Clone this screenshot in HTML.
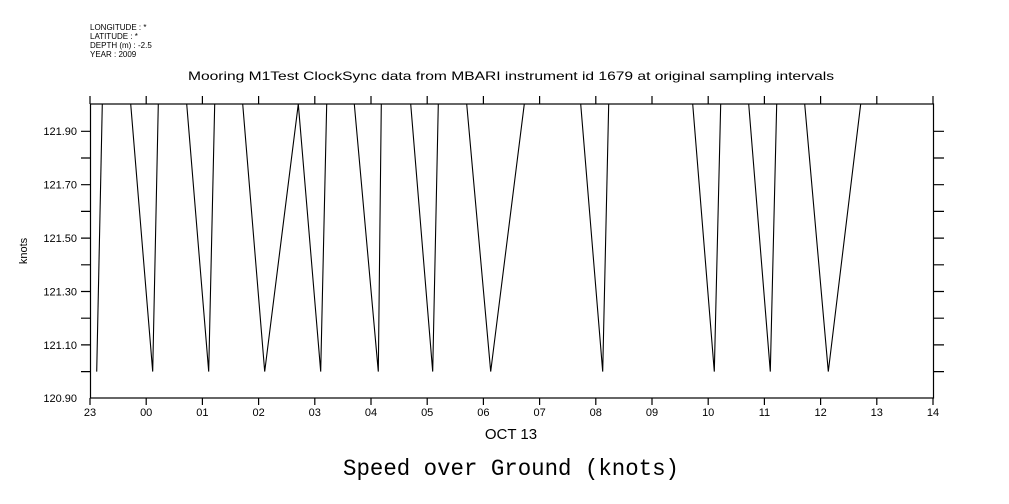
<!DOCTYPE html>
<html><head><style>
html,body{margin:0;padding:0;background:#fff;}
svg{display:block;}
text{font-family:"Liberation Sans",sans-serif;fill:#000;}
</style></head><body>
<svg width="1009" height="504" viewBox="0 0 1009 504" xmlns="http://www.w3.org/2000/svg">
<g font-size="8">
<text x="90" y="30">LONGITUDE : *</text>
<text x="90" y="39">LATITUDE : *</text>
<text x="90" y="48">DEPTH (m) : -2.5</text>
<text x="90" y="57">YEAR : 2009</text>
</g>
<text x="511" y="80" font-size="12" text-anchor="middle" textLength="646" lengthAdjust="spacingAndGlyphs">Mooring M1Test ClockSync data from MBARI instrument id 1679 at original sampling intervals</text>
<g stroke="#000" stroke-width="1.2" fill="none">
<rect x="90.5" y="104" width="843" height="294"/>
<path d="M90,104V96M146.2,104V96M202.4,104V96M258.6,104V96M314.8,104V96M371,104V96M427.2,104V96M483.4,104V96M539.6,104V96M595.8,104V96M652,104V96M708.2,104V96M764.4,104V96M820.6,104V96M876.8,104V96M933,104V96"/>
<path d="M90,398V405M146.2,398V405M202.4,398V405M258.6,398V405M314.8,398V405M371,398V405M427.2,398V405M483.4,398V405M539.6,398V405M595.8,398V405M652,398V405M708.2,398V405M764.4,398V405M820.6,398V405M876.8,398V405M933,398V405"/>
<path d="M81,131.3H90M81,158H90M81,184.7H90M81,211.4H90M81,238.1H90M81,264.8H90M81,291.5H90M81,318.2H90M81,344.9H90M81,371.6H90"/>
<path d="M934,131.3H944M934,158H944M934,184.7H944M934,211.4H944M934,238.1H944M934,264.8H944M934,291.5H944M934,318.2H944M934,344.9H944M934,371.6H944"/>
</g>
<g stroke="#000" stroke-width="1.1" fill="none">
<polyline points="96.7,371.6 102.3,104"/>
<polyline points="130.7,104 152.7,371.6 158.3,104"/>
<polyline points="186.7,104 208.7,371.6 214.7,104"/>
<polyline points="242.7,104 264.7,371.6 298.3,104 320.7,371.6 326.7,104"/>
<polyline points="354.3,104 378.3,371.6 381.3,104"/>
<polyline points="410.7,104 432.7,371.6 438.3,104"/>
<polyline points="466.7,104 490.7,371.6 524.3,104"/>
<polyline points="580.7,104 602.7,371.6 608.7,104"/>
<polyline points="692.7,104 714.3,371.6 720.7,104"/>
<polyline points="748.7,104 770.3,371.6 776.7,104"/>
<polyline points="804.7,104 828.3,371.6 860.7,104"/>
</g>
<g font-size="11" text-anchor="end">
<text x="77" y="135">121.90</text>
<text x="77" y="188.5">121.70</text>
<text x="77" y="242">121.50</text>
<text x="77" y="295.5">121.30</text>
<text x="77" y="349">121.10</text>
<text x="77" y="402">120.90</text>
</g>
<text x="0" y="0" font-size="11" text-anchor="middle" transform="translate(27,251) rotate(-90)">knots</text>
<g font-size="11" text-anchor="middle">
<text x="90" y="416">23</text><text x="146.2" y="416">00</text><text x="202.4" y="416">01</text><text x="258.6" y="416">02</text><text x="314.8" y="416">03</text><text x="371" y="416">04</text><text x="427.2" y="416">05</text><text x="483.4" y="416">06</text><text x="539.6" y="416">07</text><text x="595.8" y="416">08</text><text x="652" y="416">09</text><text x="708.2" y="416">10</text><text x="764.4" y="416">11</text><text x="820.6" y="416">12</text><text x="876.8" y="416">13</text><text x="933" y="416">14</text>
</g>
<text x="511" y="439" font-size="15" text-anchor="middle">OCT 13</text>
<text x="511" y="475" font-size="23" text-anchor="middle" style="font-family:'Liberation Mono','DejaVu Sans Mono',monospace" textLength="336" lengthAdjust="spacingAndGlyphs">Speed over Ground (knots)</text>
</svg>
</body></html>
